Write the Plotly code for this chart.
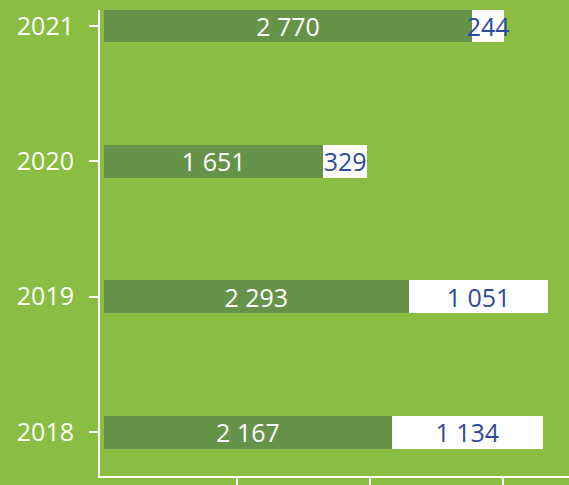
import plotly.graph_objects as go

years = ["2018", "2019", "2020", "2021"]
series_a = [2167, 2293, 1651, 2770]
series_b = [1134, 1051, 329, 244]

BG = "#8abd41"
DARK = "#67924a"
BLUE = "#2d4b9a"
FONT = "Open Sans, DejaVu Sans Condensed, sans-serif"
FS = 25

fig = go.Figure()
fig.add_trace(go.Bar(
    y=years, x=series_a, orientation="h", marker=dict(color=DARK, line=dict(width=0)),
    width=0.244, texttemplate="%{x:,.0f}", textposition="inside", insidetextanchor="middle",
    textangle=0, constraintext="none",
    textfont=dict(family=FONT, size=FS, color="white"), hoverinfo="skip",
))
fig.add_trace(go.Bar(
    y=years, x=series_b, orientation="h", marker=dict(color="white", line=dict(width=0)),
    width=0.244, texttemplate="%{x:,.0f}", textposition="inside", insidetextanchor="middle",
    textangle=0, constraintext="none",
    textfont=dict(family=FONT, size=FS, color=BLUE), hoverinfo="skip",
))

fig.update_layout(
    barmode="stack", width=569, height=485, showlegend=False,
    paper_bgcolor=BG, plot_bgcolor=BG, separators=". ",
    margin=dict(l=100, r=0, t=10, b=9),
    font=dict(family=FONT, size=FS, color="white"),
    xaxis=dict(range=[-30, 3500], showgrid=False, zeroline=False, showline=True,
               linecolor="white", linewidth=2, ticks="outside", tickcolor="white",
               tickwidth=2, ticklen=10, tickvals=[1000, 2000, 3000], showticklabels=False),
    yaxis=dict(type="category", categoryorder="array", categoryarray=years,
               range=[-0.325, 3.118], showgrid=False, zeroline=False, showline=True,
               linecolor="white", linewidth=2, ticks="outside", tickcolor="white",
               tickwidth=2, ticklen=9, ticklabelstandoff=10,
               tickfont=dict(family=FONT, size=FS, color="white")),
)

post = "document.body.style.margin='0';"
fig.write_html("out.html", post_script=post, config={"displayModeBar": False})
